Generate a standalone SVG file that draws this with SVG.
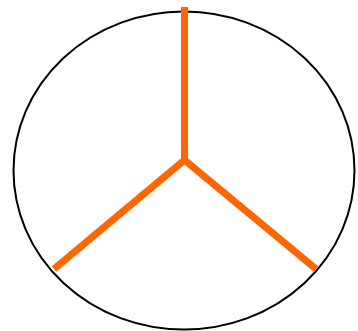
<svg xmlns="http://www.w3.org/2000/svg" width="358" height="331" viewBox="0 0 358 331">
<style>
.outline{fill:#fff;stroke:#000;stroke-width:2}
.spoke{stroke:#ff6600;stroke-width:7;fill:none;stroke-linecap:butt;stroke-linejoin:miter}
</style>
<rect width="358" height="331" fill="#fff"/>
<g id="circle"><ellipse class="outline" cx="184" cy="170.5" rx="170.5" ry="159"/></g>
<g id="connectors">
<path class="spoke" d="M184.5 7 V160"/>
<path class="spoke" d="M184.5 160 L54 269"/>
<path class="spoke" d="M184.5 160 L316 269"/>
</g>
</svg>
